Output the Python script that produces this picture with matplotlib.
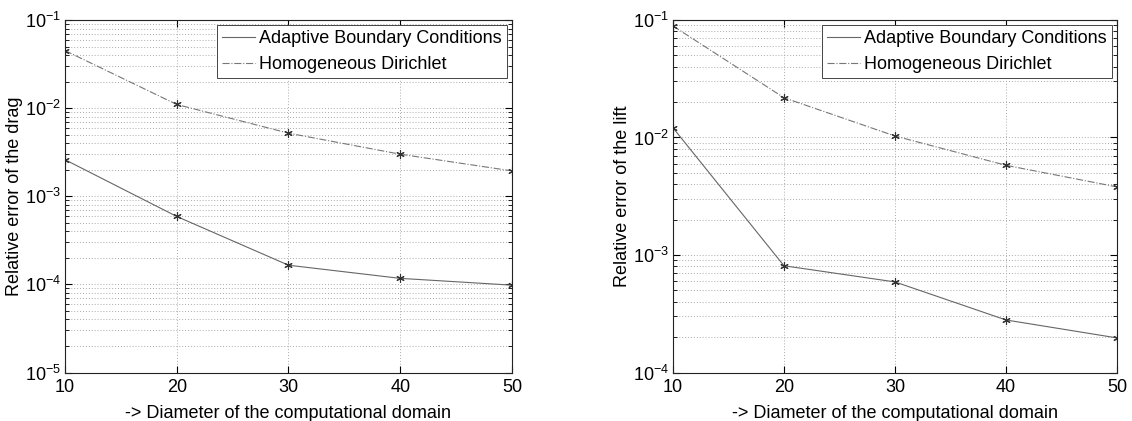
import numpy as np
import matplotlib
matplotlib.use("Agg")
import matplotlib.pyplot as plt
from matplotlib.ticker import LogLocator, NullFormatter

plt.rcParams['font.family'] = ['Liberation Sans', 'DejaVu Sans']
plt.rcParams['mathtext.fontset'] = 'custom'
plt.rcParams['mathtext.rm'] = 'Liberation Sans'
plt.rcParams['mathtext.it'] = 'Liberation Sans'

# Durchmesser des Rechengebiets
diameters = [10, 20, 30, 40, 50]

# relativer Fehler des Widerstands
drag_adaptive = [2.6e-3, 5.9e-4, 1.65e-4, 1.17e-4, 9.8e-5]
drag_dirichlet = [4.5e-2, 1.1e-2, 5.2e-3, 3.0e-3, 1.94e-3]

# relativer Fehler des Auftriebs
lift_adaptive = [1.21e-2, 8.1e-4, 5.9e-4, 2.8e-4, 1.97e-4]
lift_dirichlet = [8.9e-2, 2.18e-2, 1.03e-2, 5.8e-3, 3.8e-3]

labels = ["Adaptive Boundary Conditions", "Homogeneous Dirichlet"]

fig = plt.figure(figsize=(11.32, 4.21), dpi=100)
ax1 = fig.add_axes([0.0574, 0.1152, 0.3949, 0.8373])
ax2 = fig.add_axes([0.5945, 0.1152, 0.3922, 0.8373])

star = (6, 2, 0)  # Sternmarker wie in MATLAB


def draw(ax, y_ad, y_di, ylim, ylabel):
    ax.semilogy(diameters, y_ad, '-', color='#666666', lw=0.8, label=labels[0])
    ax.semilogy(diameters, y_di, '-.', color='#777777', lw=0.8, label=labels[1])
    ax.semilogy(diameters, y_ad, ls='none', marker=star, ms=6, mec='#333333', mew=0.8)
    ax.semilogy(diameters, y_di, ls='none', marker=star, ms=6, mec='#333333', mew=0.8)
    ax.set_xlim(10, 50)
    ax.set_ylim(*ylim)
    ax.set_xticks(diameters)
    ax.yaxis.set_major_locator(LogLocator(base=10, numticks=10))
    ax.yaxis.set_minor_locator(LogLocator(base=10, subs=np.arange(2, 10), numticks=10))
    ax.yaxis.set_minor_formatter(NullFormatter())
    ax.grid(True, which='major', ls=(0, (1, 2)), color='#aaaaaa', lw=0.7)
    ax.grid(True, which='minor', axis='y', ls=(0, (1, 2)), color='#aaaaaa', lw=0.7)
    ax.tick_params(which='both', direction='in', top=True, right=True, labelsize=13)
    ax.tick_params(axis='x', which='major', length=5, pad=5)
    ax.tick_params(axis='y', which='major', length=5, pad=3)
    ax.tick_params(which='minor', length=3)
    for s in ax.spines.values():
        s.set_linewidth(0.8)
        s.set_color('#222222')
    ax.set_xlabel("-> Diameter of the computational domain", fontsize=13, labelpad=6)
    ax.set_ylabel(ylabel, fontsize=13)
    ax.yaxis.set_label_coords(-0.094, 0.5)
    leg = ax.legend(loc='upper right', fontsize=13, fancybox=False, framealpha=1,
                    edgecolor='#444444', borderaxespad=0.25, handlelength=1.8,
                    handletextpad=0.25, borderpad=0.3, labelspacing=0.5)
    leg.get_frame().set_linewidth(0.7)


draw(ax1, drag_adaptive, drag_dirichlet, (1e-5, 1e-1), "Relative error of the drag")
draw(ax2, lift_adaptive, lift_dirichlet, (1e-4, 1e-1), "Relative error of the lift")

fig.savefig("out.png", dpi=100)
